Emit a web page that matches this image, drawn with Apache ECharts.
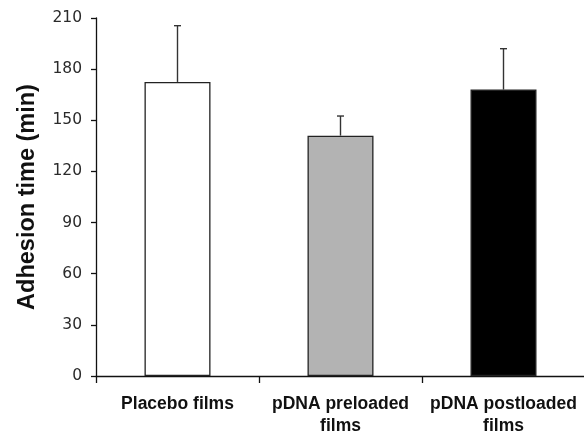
<!DOCTYPE html>
<html>
<head>
<meta charset="utf-8">
<script src="https://cdn.jsdelivr.net/npm/echarts@6/dist/echarts.min.js"></script>
<style>html,body{margin:0;padding:0;background:#fff}#c{width:584px;height:434px}</style>
</head>
<body>
<div id="c"></div>
<script>
var categories = ['Placebo films', 'pDNA preloaded\nfilms', 'pDNA postloaded\nfilms'];
var means = [172.5, 141, 168];
var errors = [33, 11.5, 24];
var fills = ['#ffffff', '#b3b3b3', '#000000'];
var yTicks = [0, 30, 60, 90, 120, 150, 180, 210];

var chart = echarts.init(document.getElementById('c'), null, {renderer: 'canvas'});
var font = '"Liberation Sans", Arial, sans-serif';
chart.setOption({
  animation: false,
  backgroundColor: '#ffffff',
  grid: {left: 96, right: -1, top: 18, bottom: 58, containLabel: false, outerBoundsMode: 'none'},
  xAxis: {
    type: 'category',
    data: categories,
    axisLine: {lineStyle: {color: '#111', width: 1.3}},
    axisTick: {show: true, length: 7, lineStyle: {color: '#111', width: 1.3}},
    axisLabel: {fontFamily: font, fontSize: 17.5, fontWeight: 'bold', color: '#111', margin: 17, lineHeight: 22, interval: 0}
  },
  yAxis: {
    type: 'value',
    min: yTicks[0], max: yTicks[yTicks.length - 1], interval: 30,
    name: 'Adhesion time (min)',
    nameLocation: 'middle',
    nameGap: 56,
    nameTextStyle: {fontFamily: font, fontSize: 23.5, fontWeight: 'bold', color: '#111'},
    splitLine: {show: false},
    axisLine: {show: true, lineStyle: {color: '#111', width: 1.3}},
    axisTick: {show: true, length: 5, lineStyle: {color: '#111', width: 1.3}},
    axisLabel: {fontFamily: '"DejaVu Sans", sans-serif', fontSize: 15.5, color: '#2a2a2a', margin: 14}
  },
  series: [
    {
      type: 'bar',
      barWidth: 66,
      data: means.map(function (v, i) {
        return {value: v, itemStyle: {color: fills[i], borderColor: '#222', borderWidth: 1.3}};
      })
    },
    {
      type: 'custom',
      data: means.map(function (v, i) { return [i, v, v + errors[i]]; }),
      renderItem: function (params, api) {
        var base = api.coord([api.value(0), api.value(1)]);
        var top = api.coord([api.value(0), api.value(2)]);
        var cap = 3.5;
        return {
          type: 'group',
          children: [
            {type: 'line', shape: {x1: base[0], y1: base[1], x2: top[0], y2: top[1]}, style: {stroke: '#333', lineWidth: 1.4}},
            {type: 'line', shape: {x1: top[0] - cap, y1: top[1], x2: top[0] + cap, y2: top[1]}, style: {stroke: '#333', lineWidth: 1.4}}
          ]
        };
      },
      z: 5
    }
  ]
});
</script>
</body>
</html>
